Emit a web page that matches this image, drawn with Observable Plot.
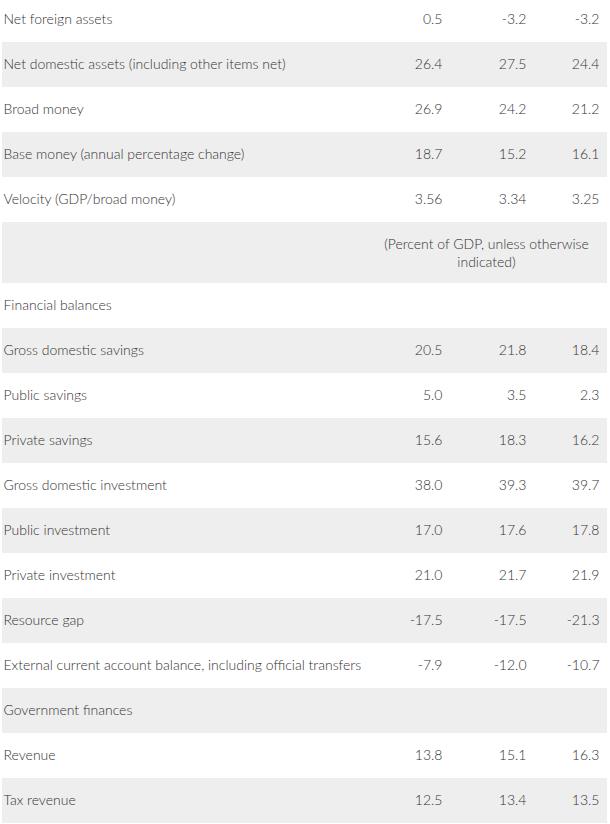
<!DOCTYPE html>
<html>
<head>
<meta charset="utf-8">
<script src="https://cdn.jsdelivr.net/npm/d3@7"></script>
<script src="https://cdn.jsdelivr.net/npm/@observablehq/plot@0.6"></script>
<style>
  html, body { margin: 0; padding: 0; background: #fff; }
  #chart svg { display: block; }
</style>
</head>
<body>
<div id="chart"></div>
<script>
// ---- data ----
const labels = [
  "Net foreign assets",
  "Net domestic assets (including other items net)",
  "Broad money",
  "Base money (annual percentage change)",
  "Velocity (GDP/broad money)",
  "",
  "Financial balances",
  "Gross domestic savings",
  "Public savings",
  "Private savings",
  "Gross domestic investment",
  "Public investment",
  "Private investment",
  "Resource gap",
  "External current account balance, including official transfers",
  "Government finances",
  "Revenue",
  "Tax revenue"
];
const col1 = [0.5, 26.4, 26.9, 18.7, 3.56, null, null, 20.5, 5.0, 15.6, 38.0, 17.0, 21.0, -17.5, -7.9, null, 13.8, 12.5];
const col2 = [-3.2, 27.5, 24.2, 15.2, 3.34, null, null, 21.8, 3.5, 18.3, 39.3, 17.6, 21.7, -17.5, -12.0, null, 15.1, 13.4];
const col3 = [-3.2, 24.4, 21.2, 16.1, 3.25, null, null, 18.4, 2.3, 16.2, 39.7, 17.8, 21.9, -21.3, -10.7, null, 16.3, 13.5];
const decimals = [1, 1, 1, 1, 2, 1, 1, 1, 1, 1, 1, 1, 1, 1, 1, 1, 1, 1];
const noteRow = 5;
const noteText = "(Percent of GDP, unless otherwise\nindicated)";

// ---- layout ----
const W = 610, H = 824;
const rowH = 45, noteH = 61, startY = -3;
const labelX = 3;
const colRight = [442, 526, 599];
const noteX = 486;
const stripeX = [2, 607];
const fs = 14;
const ink = "#333";

let y = startY;
const rows = labels.map((label, i) => {
  const h = i === noteRow ? noteH : rowH;
  const r = {i, label, top: y, bottom: y + h, mid: y + h / 2 - 0.5, vals: [col1[i], col2[i], col3[i]], dec: decimals[i]};
  y += h;
  return r;
});

const cells = [];
rows.forEach(r => r.vals.forEach((v, c) => {
  if (v != null) cells.push({x: colRight[c], y: r.mid, text: v.toFixed(r.dec)});
}));

const stripes = rows.filter(r => r.i % 2 === 1);
const note = rows[noteRow];

const chart = Plot.plot({
  width: W,
  height: H,
  margin: 0,
  x: {type: "linear", domain: [0, W], range: [0, W], axis: null},
  y: {type: "linear", domain: [0, H], range: [0, H], axis: null},
  style: {fontFamily: "Lato, 'Open Sans', sans-serif", background: "#fff"},
  marks: [
    Plot.rect(stripes, {x1: stripeX[0], x2: stripeX[1], y1: "top", y2: "bottom", fill: "#eeeeee"}),
    Plot.text(rows.filter(r => r.label), {x: labelX, y: "mid", text: "label", textAnchor: "start", fill: ink, fontSize: fs, fontWeight: 300}),
    Plot.text(cells, {x: "x", y: "y", text: "text", textAnchor: "end", fill: ink, fontSize: fs, fontWeight: 300}),
    Plot.text([note], {x: noteX, y: "mid", text: () => noteText, textAnchor: "middle", fill: ink, fontSize: fs, fontWeight: 300, lineHeight: 1.22})
  ]
});
document.getElementById("chart").appendChild(chart);
</script>
</body>
</html>
